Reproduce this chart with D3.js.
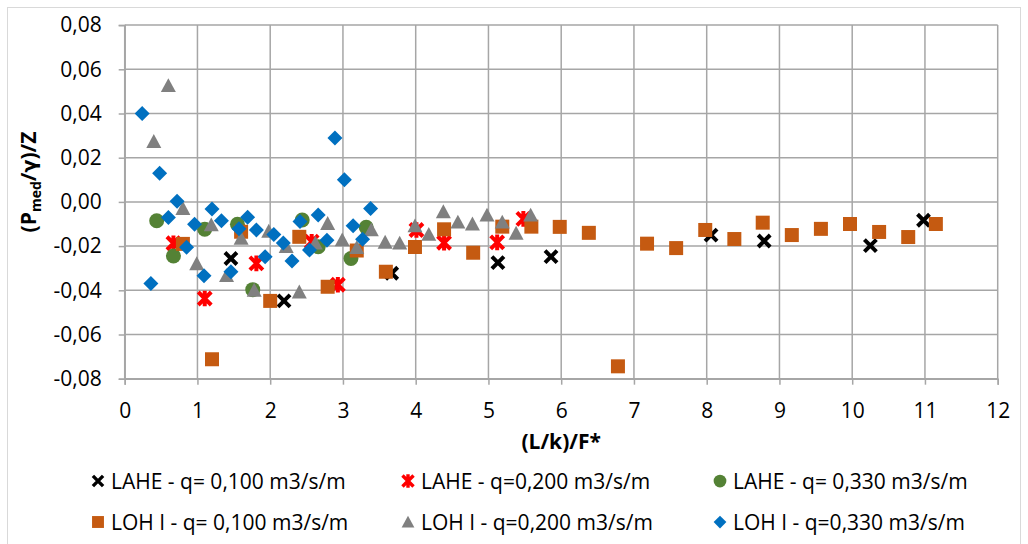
<!DOCTYPE html>
<html>
<head>
<meta charset="utf-8">
<script src="https://cdn.jsdelivr.net/npm/d3@7"></script>
<style>
  body { margin: 0; background: #fff; }
  text { font-family: "Open Sans", sans-serif; }
</style>
</head>
<body>
<script>
// chart values

var laheQ100X = [1.46, 2.19, 3.67, 5.13, 5.86, 8.06, 8.79, 10.25, 10.98];
var laheQ100Y = [-0.0256, -0.0448, -0.0323, -0.0275, -0.0248, -0.0150, -0.0177, -0.0198, -0.0083];

var laheQ200X = [0.67, 1.10, 1.81, 2.57, 2.93, 4.01, 4.39, 5.12, 5.48];
var laheQ200Y = [-0.0187, -0.0437, -0.0278, -0.0180, -0.0375, -0.0127, -0.0185, -0.0183, -0.0077];

var laheQ330X = [0.44, 0.67, 1.10, 1.55, 1.76, 2.44, 2.66, 3.11, 3.32];
var laheQ330Y = [-0.0085, -0.0245, -0.0124, -0.0101, -0.0397, -0.0082, -0.0203, -0.0256, -0.0115];

var lohQ100X = [0.80, 1.20, 1.60, 2.00, 2.40, 2.79, 3.19, 3.59, 3.99, 4.39, 4.79, 5.19, 5.59, 5.98,
  6.38, 6.78, 7.18, 7.58, 7.98, 8.38, 8.77, 9.17, 9.57, 9.97, 10.37, 10.77, 11.15];
var lohQ100Y = [-0.0190, -0.0712, -0.0135, -0.0448, -0.0158, -0.0384, -0.0220, -0.0316, -0.0204,
  -0.0124, -0.0230, -0.0112, -0.0112, -0.0113, -0.0140, -0.0744, -0.0189, -0.0209, -0.0127,
  -0.0168, -0.0094, -0.0150, -0.0122, -0.0100, -0.0136, -0.0159, -0.0100];

var lohQ200X = [0.40, 0.60, 0.80, 0.99, 1.19, 1.40, 1.60, 1.78, 1.98, 2.22, 2.40, 2.62, 2.79, 2.99,
  3.19, 3.39, 3.58, 3.78, 3.99, 4.18, 4.38, 4.58, 4.78, 4.98, 5.19, 5.38, 5.58];
var lohQ200Y = [0.0273, 0.0526, -0.0030, -0.0280, -0.0104, -0.0334, -0.0165, -0.0400, -0.0133,
  -0.0202, -0.0408, -0.0187, -0.0098, -0.0172, -0.0207, -0.0127, -0.0183, -0.0187, -0.0109,
  -0.0147, -0.0045, -0.0092, -0.0100, -0.0060, -0.0092, -0.0142, -0.0060];

var lohQ330X = [0.24, 0.36, 0.48, 0.60, 0.72, 0.85, 0.96, 1.09, 1.20, 1.33, 1.46, 1.57, 1.69, 1.81,
  1.93, 2.05, 2.18, 2.30, 2.41, 2.54, 2.66, 2.78, 2.89, 3.02, 3.14, 3.27, 3.38];
var lohQ330Y = [0.0400, -0.0369, 0.0130, -0.0071, 0.0003, -0.0205, -0.0101, -0.0334, -0.0032,
  -0.0085, -0.0316, -0.0122, -0.0069, -0.0127, -0.0248, -0.0148, -0.0186, -0.0267, -0.0089,
  -0.0218, -0.0059, -0.0173, 0.0289, 0.0100, -0.0108, -0.0169, -0.0030];

var seriesNames = [
  "LAHE - q= 0,100 m3/s/m", "LAHE - q=0,200 m3/s/m", "LAHE - q= 0,330 m3/s/m",
  "LOH I - q= 0,100 m3/s/m", "LOH I - q=0,200 m3/s/m", "LOH I - q=0,330 m3/s/m"
];
var xTicks = [0, 1, 2, 3, 4, 5, 6, 7, 8, 9, 10, 11, 12];
var yTicks = [-0.08, -0.06, -0.04, -0.02, 0, 0.02, 0.04, 0.06, 0.08];

var width = 1028;
var height = 544;

var series = [
  {name: seriesNames[0], xs: laheQ100X, ys: laheQ100Y, shape: "x",        color: "#000000"},
  {name: seriesNames[1], xs: laheQ200X, ys: laheQ200Y, shape: "star",     color: "#ff0000"},
  {name: seriesNames[2], xs: laheQ330X, ys: laheQ330Y, shape: "circle",   color: "#548235"},
  {name: seriesNames[3], xs: lohQ100X,  ys: lohQ100Y,  shape: "square",   color: "#c55a11"},
  {name: seriesNames[4], xs: lohQ200X,  ys: lohQ200Y,  shape: "triangle", color: "#808080"},
  {name: seriesNames[5], xs: lohQ330X,  ys: lohQ330Y,  shape: "diamond",  color: "#0070c0"}
];

var svg = d3.select("body").append("svg")
    .attr("width", width)
    .attr("height", height);

// chart border
svg.append("rect")
    .attr("x", 7.5).attr("y", 7.5)
    .attr("width", 1013).attr("height", 560)
    .attr("fill", "none")
    .attr("stroke", "#d9d9d9")
    .attr("stroke-width", 1);

var x = d3.scaleLinear().domain([0, 12]).range([124.7, 997.7]);
var y = d3.scaleLinear().domain([-0.08, 0.08]).range([378.7, 25.1]);

var fmt = function(d){ return d3.format(".2f")(d).replace(".", ",").replace("−", "-"); };

// gridlines
var grid = svg.append("g").attr("stroke", "#a6a6a6").attr("stroke-width", 1.5);
grid.selectAll(".vgrid").data(xTicks).enter().append("line")
    .attr("class", "vgrid")
    .attr("x1", function(d){ return x(d); })
    .attr("x2", function(d){ return x(d); })
    .attr("y1", y(-0.08))
    .attr("y2", y(0.08));
grid.selectAll(".hgrid").data(yTicks).enter().append("line")
    .attr("class", "hgrid")
    .attr("x1", x(0))
    .attr("x2", x(12))
    .attr("y1", function(d){ return y(d); })
    .attr("y2", function(d){ return y(d); });

// axes
var xAxis = svg.append("g")
    .attr("transform", "translate(0," + y(-0.08) + ")")
    .call(d3.axisBottom(x).tickValues(xTicks).tickSize(6).tickPadding(18).tickFormat(d3.format("d")));
var yAxis = svg.append("g")
    .attr("transform", "translate(" + x(0) + ",0)")
    .call(d3.axisLeft(y).tickValues(yTicks).tickSize(6).tickPadding(17).tickFormat(fmt));

[xAxis, yAxis].forEach(function(a){
  a.select(".domain").attr("stroke", "#a6a6a6").attr("stroke-width", 1.5);
  a.selectAll(".tick line").attr("stroke", "#a6a6a6").attr("stroke-width", 1.5);
  a.selectAll(".tick text")
    .attr("fill", "#000")
    .style("font-family", "'Open Sans', sans-serif")
    .style("font-size", "21px");
});

// marker shapes
function markerPath(shape, s){
  var h = s / 2;
  if (shape === "x") return "M" + (-h) + "," + (-h) + "L" + h + "," + h + "M" + (-h) + "," + h + "L" + h + "," + (-h);
  if (shape === "star") return "M" + (-h) + "," + (-h) + "L" + h + "," + h + "M" + (-h) + "," + h + "L" + h + "," + (-h) +
    "M0," + (-h * 1.2) + "L0," + (h * 1.2);
  if (shape === "square") return "M" + (-h) + "," + (-h) + "h" + s + "v" + s + "h" + (-s) + "Z";
  if (shape === "triangle") return "M0," + (-h) + "L" + h + "," + (h * 0.85) + "L" + (-h) + "," + (h * 0.85) + "Z";
  if (shape === "diamond") return "M0," + (-h) + "L" + h + ",0L0," + h + "L" + (-h) + ",0Z";
  return "M" + h + ",0A" + h + "," + h + " 0 1,1 " + (-h) + ",0A" + h + "," + h + " 0 1,1 " + h + ",0Z";
}
var markerSize = {x: 12, star: 13, circle: 15, square: 14, triangle: 15, diamond: 15};

function drawMarker(sel, d, scale){
  var k = scale || 1;
  var p = sel.append("path").attr("d", markerPath(d.shape, markerSize[d.shape] * k));
  if (d.shape === "x" || d.shape === "star") {
    p.attr("fill", "none").attr("stroke", d.color).attr("stroke-width", 4 * k);
  } else {
    p.attr("fill", d.color).attr("stroke", "none");
  }
}

// points, series in order so later ones sit on top
var plot = svg.append("g");
series.forEach(function(s){
  var pts = s.xs.map(function(v, i){ return {x: v, y: s.ys[i]}; });
  plot.append("g").selectAll("g").data(pts).enter().append("g")
      .attr("transform", function(d){ return "translate(" + x(d.x) + "," + y(d.y) + ")"; })
      .each(function(){ drawMarker(d3.select(this), s); });
});

// axis titles
svg.append("text")
    .attr("x", (x(0) + x(12)) / 2)
    .attr("y", 449)
    .attr("text-anchor", "middle")
    .style("font-size", "21px")
    .style("font-weight", "bold")
    .text("(L/k)/F*");

var yt = svg.append("text")
    .attr("transform", "translate(36,182) rotate(-90)")
    .attr("text-anchor", "middle")
    .style("font-size", "21px")
    .style("font-weight", "bold");
yt.append("tspan").text("(P");
yt.append("tspan").attr("dy", 5).style("font-size", "14px").text("med");
yt.append("tspan").attr("dy", -5).text("/");
yt.append("tspan").style("font-family", "'DejaVu Sans', sans-serif").style("font-size", "19px").text("γ");
yt.append("tspan").text(")/Z");

// legend
var legX = [98, 408, 720];
var legY = [481, 522];
var leg = svg.append("g").selectAll("g").data(series).enter().append("g")
    .attr("transform", function(d, i){ return "translate(" + legX[i % 3] + "," + legY[Math.floor(i / 3)] + ")"; });
leg.each(function(d){ drawMarker(d3.select(this), d, 0.85); });
leg.append("text")
    .attr("x", 13)
    .attr("y", 7.5)
    .style("font-size", "21px")
    .attr("fill", "#000")
    .text(function(d){ return d.name; });
</script>
</body>
</html>
